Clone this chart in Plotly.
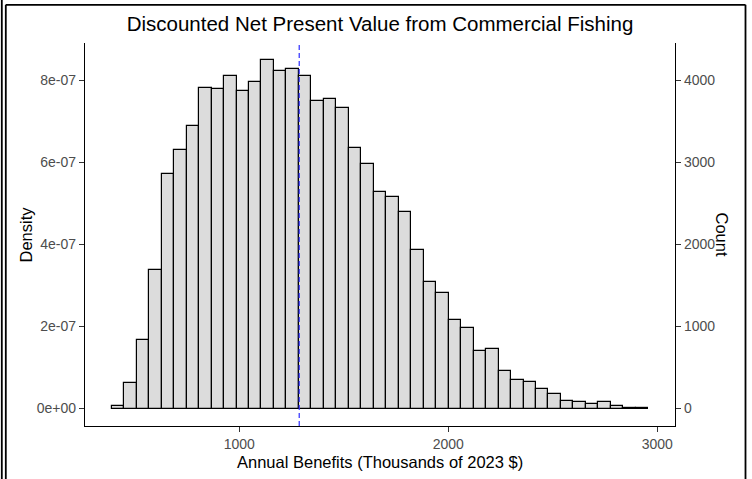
import plotly.graph_objects as go

# ---- data ----
bin_start = 390.0          # thousands of 2023 $
bin_width = 59.7           # thousands of 2023 $
counts = [30, 315, 835, 1685, 2856, 3149, 3441, 3905, 3893, 4055,
          3863, 3982, 4240, 4116, 4140, 4055, 3746, 3774, 3656, 3177,
          2982, 2632, 2579, 2400, 1933, 1539, 1405, 1083, 985, 705,
          729, 454, 344, 327, 234, 177, 95, 76, 59, 76,
          30, 3, 2]
mean_value = 1287
x_ticks = [1000, 2000, 3000]
x_tick_labels = ["1000", "2000", "3000"]
count_ticks = [0, 1000, 2000, 3000, 4000]
count_tick_labels = ["0", "1000", "2000", "3000", "4000"]
density_ticks = [0, 2e-07, 4e-07, 6e-07, 8e-07]
density_tick_labels = ["0e+00", "2e-07", "4e-07", "6e-07", "8e-07"]

title_text = "Discounted Net Present Value from Commercial Fishing"
x_title = "Annual Benefits (Thousands of 2023 $)"
y_title = "Density"
y2_title = "Count"

# ---- derived ----
n_total = sum(counts)
centers = [bin_start + bin_width * (i + 0.5) for i in range(len(counts))]
dens_per_count = 1.0 / (n_total * bin_width * 1000.0)
density = [c * dens_per_count for c in counts]

count_range = [-212, 4452]
density_range = [v * dens_per_count for v in count_range]
x_range = [262, 3085]

W, H = 752, 479
L, R, T, B = 85, 77, 43, 53
pw, ph = W - L - R, H - T - B

def px(x):
    return (x - L) / pw

def py(y):
    return (H - B - y) / ph

FONT = "Liberation Sans, Arial, sans-serif"
TICK_COL = "#4D4D4D"

fig = go.Figure()
fig.add_trace(go.Bar(
    x=centers, y=density, width=[bin_width] * len(counts),
    marker=dict(color="#DCDCDC", line=dict(color="black", width=1.2)),
    showlegend=False, hoverinfo="skip", yaxis="y"))
fig.add_trace(go.Scatter(
    x=centers, y=counts, mode="markers", marker=dict(opacity=0),
    showlegend=False, hoverinfo="skip", yaxis="y2"))

fig.add_shape(type="line", xref="x", yref="paper", x0=mean_value, x1=mean_value,
              y0=0, y1=1, line=dict(color="#2E2EFF", width=1.2, dash="5px,3px"))

# outer frame
frame = dict(color="black", width=1.8)
fig.add_shape(type="line", xref="paper", yref="paper", x0=px(1.8), x1=px(1.8),
              y0=py(0), y1=py(479), line=frame)
fig.add_shape(type="line", xref="paper", yref="paper", x0=px(5.8), x1=px(5.8),
              y0=py(4.8), y1=py(479), line=frame)
fig.add_shape(type="line", xref="paper", yref="paper", x0=px(5.8), x1=px(745.5),
              y0=py(4.8), y1=py(4.8), line=frame)
fig.add_shape(type="line", xref="paper", yref="paper", x0=px(745.5), x1=px(745.5),
              y0=py(4.8), y1=py(479), line=frame)

axis_common = dict(showline=True, linecolor="black", linewidth=1.2, ticks="outside",
                   ticklen=5, tickwidth=1, tickcolor="#333333", showgrid=False,
                   zeroline=False, tickfont=dict(family=FONT, size=14, color=TICK_COL))

fig.update_layout(
    width=W, height=H, margin=dict(l=L, r=R, t=T, b=B, autoexpand=False),
    paper_bgcolor="white", plot_bgcolor="white", bargap=0,
    xaxis=dict(range=x_range, tickvals=x_ticks, ticktext=x_tick_labels, **axis_common),
    yaxis=dict(range=density_range, tickvals=density_ticks, ticktext=density_tick_labels,
               **axis_common),
    yaxis2=dict(range=count_range, tickvals=count_ticks, ticktext=count_tick_labels,
                overlaying="y", side="right", **axis_common),
    title=dict(text=title_text, x=0.5, xref="paper", xanchor="center",
               y=1 - 24 / H, yref="container", yanchor="middle",
               font=dict(family=FONT, size=20.5, color="black")),
    annotations=[
        dict(text=x_title, xref="paper", yref="paper", x=0.5, y=py(462),
             xanchor="center", yanchor="middle", showarrow=False,
             font=dict(family=FONT, size=16.5, color="black")),
        dict(text=y_title, xref="paper", yref="paper", x=px(25), y=py(234.5),
             xanchor="center", yanchor="middle", showarrow=False, textangle=-90,
             font=dict(family=FONT, size=16.5, color="black")),
        dict(text=y2_title, xref="paper", yref="paper", x=px(722), y=py(234.5),
             xanchor="center", yanchor="middle", showarrow=False, textangle=90,
             font=dict(family=FONT, size=16.5, color="black")),
    ],
)

fig.write_html("out.html", config={"displayModeBar": False},
               post_script="document.body.style.margin='0px';document.body.style.overflow='hidden';")
